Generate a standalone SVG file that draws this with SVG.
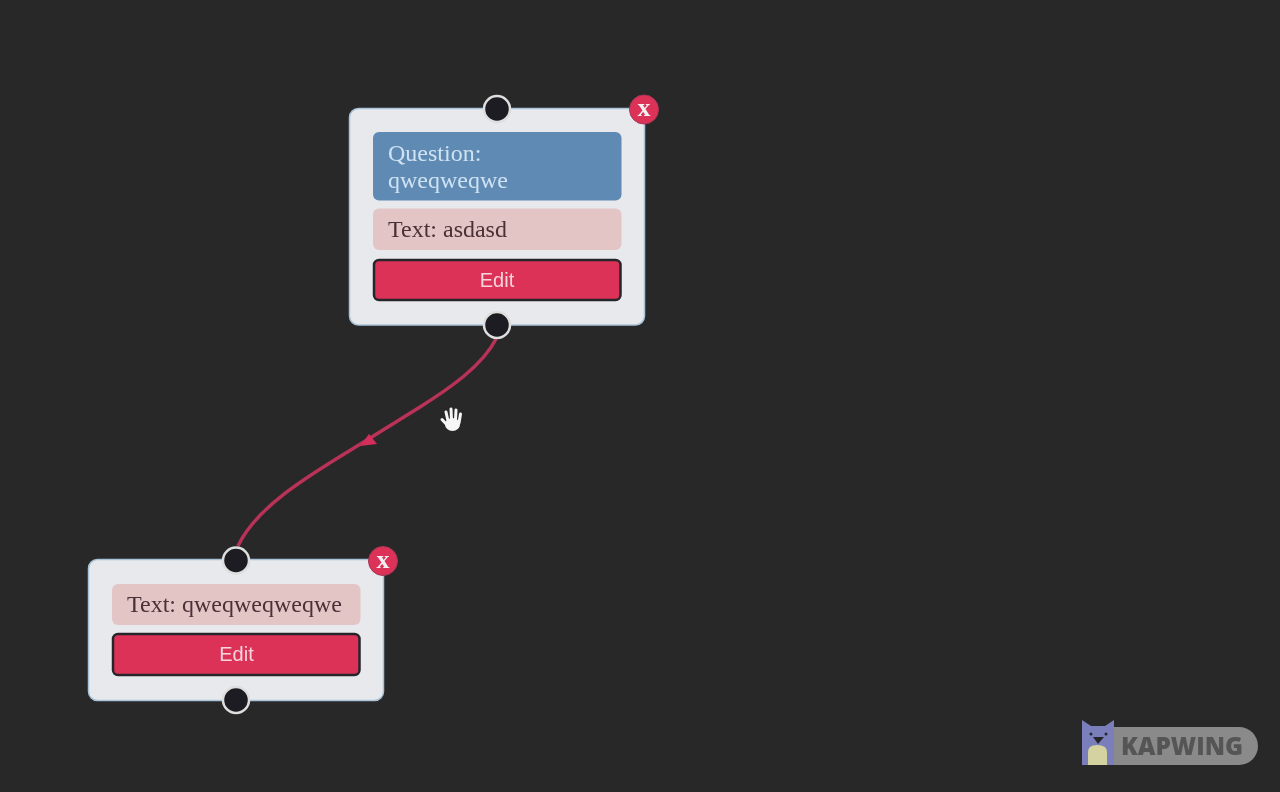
<svg xmlns="http://www.w3.org/2000/svg" width="1280" height="792" viewBox="0 0 1280 792">
<defs>
<filter id="soft" x="0" y="0" width="1280" height="792" filterUnits="userSpaceOnUse"><feGaussianBlur stdDeviation="0.7"/></filter>
</defs>
<style>
.card{fill:#e8e9ec;stroke:#a9c3d8;stroke-width:1.5}
.q{fill:#5f8ab3}
.t{fill:#e3c5c5}
.btn{fill:#dc3158;stroke:#26262c;stroke-width:2.5}
.serif{font-family:"Liberation Serif",serif;font-size:24px}
.sans{font-family:"Liberation Sans",sans-serif;font-size:20px;fill:#f6d5dc;text-anchor:middle}
.port{fill:#1a1c20;stroke:#dedede;stroke-width:2.5}
.x{fill:#dc3158;stroke:#a83655;stroke-width:1}
.xt{font-family:"Liberation Serif",serif;font-weight:700;font-size:26px;fill:#f4f0f2;text-anchor:middle}
.edge{fill:none;stroke:#b93059;stroke-width:3.5}
.finger{fill:none;stroke:#f6f6f6;stroke-width:3;stroke-linecap:round}
</style>
<rect width="1280" height="792" fill="#282828"/>
<g filter="url(#soft)">
<g id="connectors">
<path class="edge" d="M496 339C482 366 450 388 420 407L367 440C320 469 258 503 238 546"/>
<polygon points="360,446 369,434 377,444" fill="#d42f5a"/>
</g>
<g id="node-question">
<rect class="card" x="349.500" y="108.500" width="295" height="216.500" rx="9"/>
<rect class="q" x="373" y="132" width="248.500" height="68.500" rx="6"/>
<text class="serif" x="388" y="161" fill="#cfe2f2">Question:</text>
<text class="serif" x="388" y="188" fill="#cfe2f2">qweqweqwe</text>
<rect class="t" x="373" y="208.500" width="248.500" height="41.500" rx="6"/>
<text class="serif" x="388" y="237" fill="#4a3036">Text: asdasd</text>
<rect class="btn" x="374" y="260" width="246.500" height="40" rx="5"/>
<text class="sans" x="497" y="286.500">Edit</text>
<circle class="port" cx="497" cy="109" r="13"/>
<circle class="port" cx="497" cy="325" r="13"/>
<circle class="x" cx="644" cy="109.500" r="14.500"/>
<text class="xt" x="644" y="116">x</text>
</g>
<g id="node-text">
<rect class="card" x="88.500" y="559.500" width="295" height="141" rx="9"/>
<rect class="t" x="112" y="584" width="248.500" height="41" rx="6"/>
<text class="serif" x="127" y="612" fill="#4a3036">Text: qweqweqweqwe</text>
<rect class="btn" x="113" y="634" width="246.500" height="41" rx="5"/>
<text class="sans" x="236.500" y="661">Edit</text>
<circle class="port" cx="236" cy="560.500" r="13"/>
<circle class="port" cx="236" cy="700" r="13"/>
<circle class="x" cx="383" cy="561" r="14.500"/>
<text class="xt" x="383" y="567.500">x</text>
</g>
<g id="cursor">
<ellipse cx="452.500" cy="424.500" rx="7.500" ry="6.500" fill="#f6f6f6"/>
<path class="finger" d="M448 421L446 412M451.500 420L451 409M455.500 420L456 410M459 423L460.500 414M449 427L442 419.500"/>
</g>
<g id="watermark">
<path d="M1114 727H1239A19 19 0 0 1 1239 765H1114Z" fill="#8a8a8a"/>
<text x="1121" y="755" font-family="'Open Sans','Liberation Sans',sans-serif" font-weight="800" font-size="24" textLength="122" lengthAdjust="spacingAndGlyphs" fill="#555">KAPWING</text>
<path d="M1082 720L1091 726H1105L1114 720V765H1082Z" fill="#7a7fbc"/>
<path d="M1088 765V752Q1088 745 1097 745Q1107 745 1107 752V765Z" fill="#d4d2a0"/>
<path d="M1093 737H1104L1098 744Z" fill="#26262c"/>
<circle cx="1091" cy="734" r="1.500" fill="#26262c"/>
<circle cx="1106" cy="734" r="1.500" fill="#26262c"/>
</g>
</g>
</svg>
